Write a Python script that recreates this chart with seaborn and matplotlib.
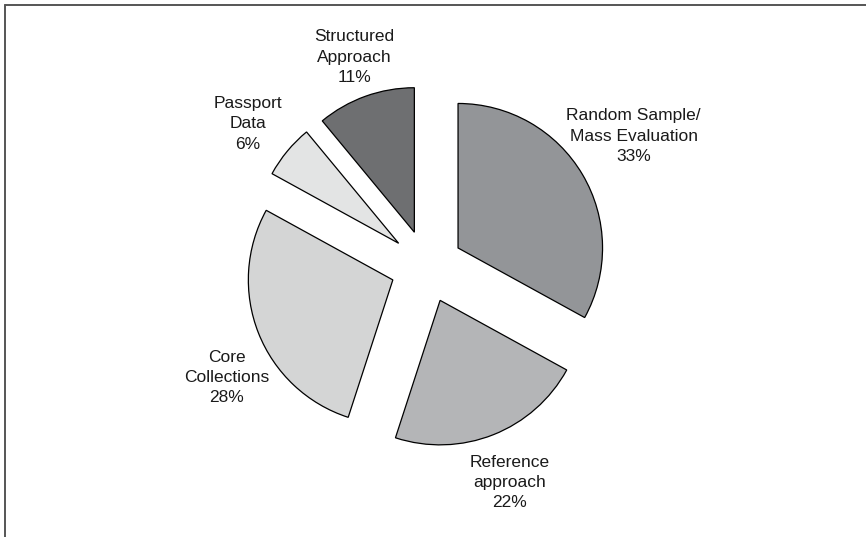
import numpy as np
import matplotlib
matplotlib.use("Agg")
import matplotlib.pyplot as plt
from matplotlib.lines import Line2D
import seaborn as sns

# Share of evaluation approaches (percent)
categories = ["Random Sample/\nMass Evaluation", "Reference\napproach",
              "Core\nCollections", "Passport\nData", "Structured\nApproach"]
shares = [33, 22, 28, 6, 11]

# Styling
slice_colors = ["#939598", "#b4b5b7", "#d4d5d5", "#e3e4e4", "#6e6f71"]
label_dist = [1.44, 1.35, 1.334, 1.33, 1.28]     # in pie radii, from exploded tip
label_turn = [1.9, -0.7, 8.8, 1.2, -0.9]         # degrees added to mid angle

sns.set_theme(style="white")
plt.rcParams["font.family"] = ["Liberation Sans", "DejaVu Sans"]

W, H = 866, 537
fig = plt.figure(figsize=(W / 100, H / 100), dpi=100)
ax = fig.add_axes([0, 0, 1, 1])

radius = 144.5
center = (426.7, H - 266.5)
offset = 0.252 * radius  # explode distance, in data units
wedges, _ = ax.pie(
    shares,
    colors=sns.color_palette(slice_colors),
    explode=[offset] * len(shares),
    startangle=90,
    counterclock=False,
    radius=radius,
    center=center,
    wedgeprops=dict(edgecolor="black", linewidth=0.9),
)

for w, cat, val, d, turn in zip(wedges, categories, shares, label_dist, label_turn):
    mid = np.deg2rad((w.theta1 + w.theta2) / 2 + turn)
    cx, cy = w.center
    ax.text(cx + d * radius * np.cos(mid), cy + d * radius * np.sin(mid),
            f"{cat}\n{val}%", ha="center", va="center", fontsize=12.5,
            color="#1a1a1a", linespacing=1.45)

ax.set_xlim(0, W)
ax.set_ylim(0, H)
ax.set_aspect("equal", adjustable="box")
ax.axis("off")

# Partial frame: left and top edges
fig.add_artist(Line2D([4.5 / W, 4.5 / W], [0, 1 - 4.5 / H], transform=fig.transFigure,
                      color="#555555", linewidth=1.4))
fig.add_artist(Line2D([4.5 / W, 1], [1 - 4.5 / H, 1 - 4.5 / H], transform=fig.transFigure,
                      color="#555555", linewidth=1.4))

fig.savefig("out.png", dpi=100, facecolor="white")
